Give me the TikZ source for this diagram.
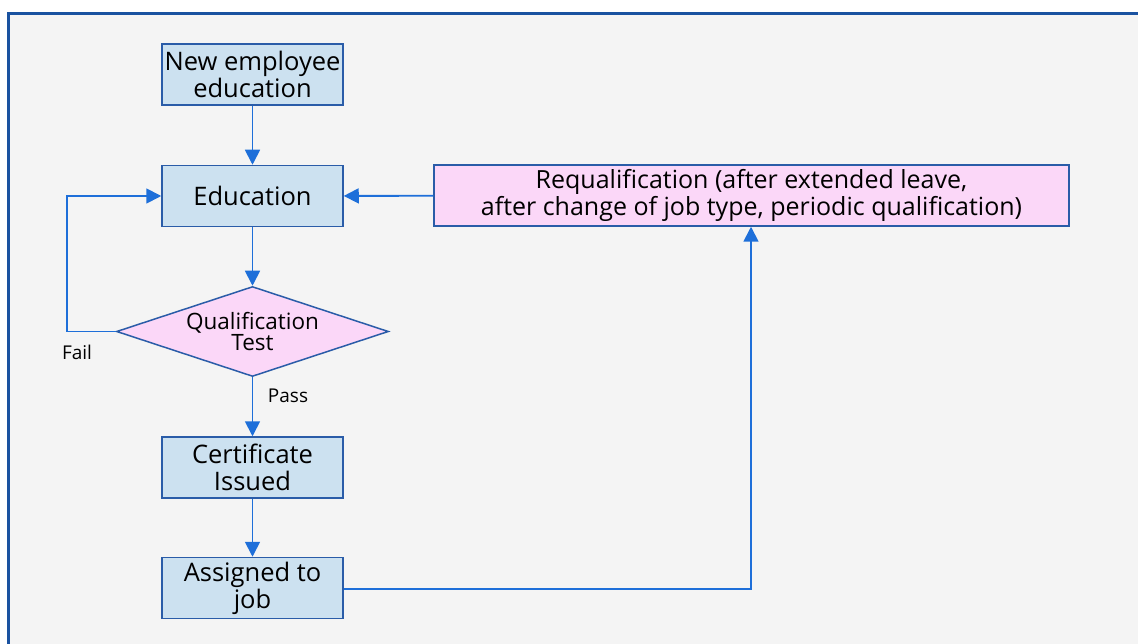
\documentclass[tikz,border=0pt]{standalone}
\usepackage{fontspec}
\setmainfont{Open Sans}
\usetikzlibrary{shapes.geometric,arrows.meta}
\definecolor{framecol}{HTML}{1A52A0}
\definecolor{bgcol}{HTML}{F4F4F4}
\definecolor{boxfill}{HTML}{CCE1F0}
\definecolor{pinkfill}{HTML}{FBD7F8}
\definecolor{edgecol}{HTML}{2A5CA8}
\definecolor{linkcol}{HTML}{1E6FD9}
\tikzset{
  stepbox/.style={draw=edgecol, line width=1.5pt, fill=boxfill, rectangle,
    minimum width=181pt, minimum height=61pt, inner sep=0pt, align=center,
    font=\fontsize{25.5}{27}\selectfont},
  requal/.style={stepbox, fill=pinkfill, minimum width=635pt,
    font=\fontsize{25}{27}\selectfont},
  decide/.style={draw=edgecol, line width=1.5pt, fill=pinkfill, diamond,
    shape aspect=3, inner sep=0pt, align=center,
    font=\fontsize{22.5}{21}\selectfont},
  link/.style={draw=linkcol, line width=1.8pt,
    -{Triangle[length=15pt,width=15pt]}},
  tag/.style={font=\fontsize{19}{21}\selectfont, inner sep=0pt}
}
\begin{document}
\begin{tikzpicture}[x=1pt,y=-1pt]
  \useasboundingbox (0,0) rectangle (1138,644);
  \clip (0,0) rectangle (1138,644);
  \fill[white] (0,0) rectangle (1138,644);
  % outer panel
  \draw[framecol, line width=3pt, fill=bgcol] (8,14) rectangle (1160,670);

  % flow steps
  \node[stepbox] (new)  at (252.5,74.5)  {New employee\\education};
  \node[stepbox] (edu)  at (252.5,196)   {Education};
  \node[decide, minimum width=272pt, minimum height=90pt] (test) at (252.5,331.5) {Qualification\\Test};
  \node[stepbox] (cert) at (252.5,467.5) {Certificate\\Issued};
  \node[stepbox] (job)  at (252.5,588)   {Assigned to\\job};
  \node[requal]  (req)  at (751.5,195.5)
    {Requalification (after extended leave,\\after change of job type, periodic qualification)};

  % connector corners
  \coordinate (failcorner) at (67,331.5);
  \coordinate (failtop)    at (67,196);
  \coordinate (jobcorner)  at (751,589);

  % connectors
  \draw[link] (new) -- (edu);
  \draw[link] (edu) -- (test);
  \draw[link] (test) -- (cert);
  \draw[link] (cert) -- (job);
  \draw[link] (req) -- (edu);
  \draw[link] (test.west) -- (failcorner) -- (failtop) -- (edu.west);
  \draw[link] (job.east |- jobcorner) -- (jobcorner) -- (req.south -| jobcorner);

  % branch labels
  \node[tag] (fail) at (77,352) {Fail};
  \node[tag] (pass) at (288,396) {Pass};
\end{tikzpicture}
\end{document}
